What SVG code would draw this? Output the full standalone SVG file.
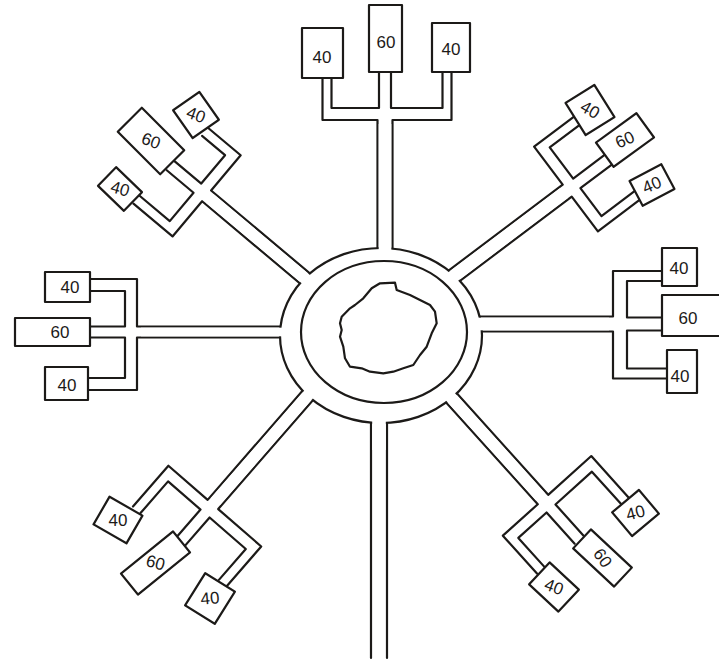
<svg xmlns="http://www.w3.org/2000/svg" width="719" height="667" viewBox="0 0 719 667">
<style>
.ln{fill:none;stroke:#1c1a18;stroke-width:2.2;stroke-linecap:round;stroke-linejoin:round}
.bx{fill:#ffffff;stroke:#1c1a18;stroke-width:2.2;stroke-linejoin:round}
.gap{fill:#ffffff;stroke:none}
.lb{font-family:"Liberation Sans","DejaVu Sans",sans-serif;font-size:17px;fill:#1c1a18;text-anchor:middle;dominant-baseline:central}
</style>
<rect width="719" height="667" fill="#ffffff"/>
<g id="connectors">
  <g id="corridor-top" transform="translate(385,114)">
    <path class="ln" d="M-7.5,190 L-7.5,6 L-62.5,6 L-62.5,-36"/>
    <path class="ln" d="M-53.5,-36 L-53.5,-6 L-6,-6 L-6,-42"/>
    <path class="ln" d="M7.5,190 L7.5,6 L66.5,6 L66.5,-42"/>
    <path class="ln" d="M57.5,-42 L57.5,-6 L6,-6 L6,-42"/>
  </g>
  <g id="corridor-left" transform="translate(131,332) rotate(-90)">
    <path class="ln" d="M-5.5,200 L-5.5,6 L-58,6 L-58,-43"/>
    <path class="ln" d="M-46,-43 L-46,-6 L-5.5,-6 L-5.5,-41"/>
    <path class="ln" d="M5.5,200 L5.5,6 L53,6 L53,-41"/>
    <path class="ln" d="M41,-41 L41,-6 L5.5,-6 L5.5,-41"/>
  </g>
  <g id="corridor-right" transform="translate(620,324) rotate(90)">
    <path class="ln" d="M-7.5,190 L-7.5,7 L-53,7 L-53,-42"/>
    <path class="ln" d="M-43,-42 L-43,-7 L-6.5,-7 L-6.5,-42"/>
    <path class="ln" d="M7.5,190 L7.5,7 L54.5,7 L54.5,-47"/>
    <path class="ln" d="M44.5,-47 L44.5,-7 L6.5,-7 L6.5,-42"/>
  </g>
  <g id="corridor-upper-left" transform="translate(202,192) rotate(-50)">
    <path class="ln" d="M-7,180 L-7,6 L-53,6 L-53,-45"/>
    <path class="ln" d="M-43,-45 L-43,-6 L-6,-6 L-6,-41"/>
    <path class="ln" d="M7,180 L7,6 L53,6 L53,-36"/>
    <path class="ln" d="M43,-36 L43,-6 L6,-6 L6,-41"/>
  </g>
  <g id="corridor-upper-right" transform="translate(572,187) rotate(53)">
    <path class="ln" d="M-7.5,190 L-7.5,6 L-55,6 L-55,-44"/>
    <path class="ln" d="M-45,-44 L-45,-6 L-6,-6 L-6,-47"/>
    <path class="ln" d="M7.5,190 L7.5,6 L51,6 L51,-47"/>
    <path class="ln" d="M41,-47 L41,-6 L6,-6 L6,-47"/>
  </g>
  <g id="corridor-lower-right" transform="translate(547,504) rotate(138)">
    <path class="ln" d="M-7,185 L-7,6 L-65,6 L-65,-50"/>
    <path class="ln" d="M-55,-50 L-55,-6 L-6,-6 L-6,-48"/>
    <path class="ln" d="M7,185 L7,6 L54,6 L54,-45"/>
    <path class="ln" d="M44,-45 L44,-6 L6,-6 L6,-48"/>
  </g>
  <g id="corridor-lower-left" transform="translate(209,509) rotate(-139)">
    <path class="ln" d="M-7,195 L-7,6 L-64,6 L-64,-47"/>
    <path class="ln" d="M-54,-47 L-54,-6 L-6,-6 L-6,-43"/>
    <path class="ln" d="M7,195 L7,6 L59,6 L59,-48"/>
    <path class="ln" d="M49,-48 L49,-6 L6,-6 L6,-43"/>
  </g>
  <g id="corridor-bottom">
    <path class="ln" d="M371,658 L371,380"/>
    <path class="ln" d="M387,658 L387,380"/>
  </g>
</g>
<g id="ring">
  <ellipse class="bx" cx="381" cy="335.5" rx="101" ry="87.5"/>
  <rect class="gap" transform="translate(385,114)" x="-6.3" y="10" width="12.6" height="180"/>
  <rect class="gap" transform="translate(131,332) rotate(-90)" x="-4.3" y="10" width="8.6" height="190"/>
  <rect class="gap" transform="translate(620,324) rotate(90)" x="-6.3" y="11" width="12.6" height="179"/>
  <rect class="gap" transform="translate(202,192) rotate(-50)" x="-5.8" y="10" width="11.6" height="170"/>
  <rect class="gap" transform="translate(572,187) rotate(53)" x="-6.3" y="10" width="12.6" height="180"/>
  <rect class="gap" transform="translate(547,504) rotate(138)" x="-5.8" y="10" width="11.6" height="175"/>
  <rect class="gap" transform="translate(209,509) rotate(-139)" x="-5.8" y="10" width="11.6" height="185"/>
  <rect class="gap" x="372.2" y="380" width="13.6" height="70"/>
  <ellipse class="ln" cx="384" cy="332" rx="83" ry="71"/>
  <path id="core" class="ln" d="M371.7,288.3 L380,283.3 L395,282.7 L396.7,290 L410,295 L420,300 L430,305 L435,311.7 L436.7,323.3 L431.7,333.3 L426.7,346.7 L420,355 L413.3,365 L403.3,368.3 L393.3,371.7 L383.3,373.3 L370,371.7 L361.7,368.3 L350,366.7 L345,358.3 L343.3,346.7 L340,336.7 L341.7,330 L340,323.3 L341.7,316.7 L350,308.3 L355,305 L363.3,298.3 Z"/>
</g>
<g id="top-40a"><rect class="bx" x="302" y="28" width="41" height="50"/><text class="lb" x="322" y="57">40</text></g>
<g id="top-60"><rect class="bx" x="369" y="5" width="33" height="67"/><text class="lb" x="386" y="42">60</text></g>
<g id="top-40b"><rect class="bx" x="432" y="23" width="38" height="49"/><text class="lb" x="451" y="49">40</text></g>

<g id="left-40a"><rect class="bx" x="45" y="272" width="45" height="30"/><text class="lb" x="70" y="287">40</text></g>
<g id="left-60"><rect class="bx" x="15" y="318" width="75" height="28"/><text class="lb" x="60" y="332">60</text></g>
<g id="left-40b"><rect class="bx" x="45" y="367" width="43" height="33"/><text class="lb" x="67" y="385">40</text></g>

<g id="right-40a"><rect class="bx" x="662" y="248" width="35" height="38"/><text class="lb" x="679" y="268">40</text></g>
<g id="right-60"><rect class="bx" x="662" y="295" width="78" height="41"/><text class="lb" x="688" y="318">60</text></g>
<g id="right-40b"><rect class="bx" x="667" y="350" width="30" height="43"/><text class="lb" x="680" y="376">40</text></g>

<g id="ul-40a" transform="translate(196,115) rotate(-35)"><rect class="bx" x="-16" y="-17" width="32" height="34"/><text class="lb" transform="rotate(55)" x="0" y="0">40</text></g>
<g id="ul-60" transform="translate(151,141) rotate(-45)"><rect class="bx" x="-17" y="-30" width="34" height="60"/><text class="lb" transform="rotate(65)" x="0" y="0">60</text></g>
<g id="ul-40b" transform="translate(120,189) rotate(-46)"><rect class="bx" x="-13" y="-18" width="26" height="36"/><text class="lb" transform="rotate(62)" x="0" y="0">40</text></g>

<g id="ur-40a" transform="translate(590,110) rotate(-32)"><rect class="bx" x="-17" y="-19" width="34" height="38"/><text class="lb" transform="rotate(62)" x="0" y="0">40</text></g>
<g id="ur-60" transform="translate(625,140) rotate(-36)"><rect class="bx" x="-25" y="-15" width="50" height="30"/><text class="lb" transform="rotate(12)" x="0" y="0">60</text></g>
<g id="ur-40b" transform="translate(652,185) rotate(-28)"><rect class="bx" x="-18" y="-14" width="36" height="28"/><text class="lb" transform="rotate(6)" x="0" y="0">40</text></g>

<g id="lr-40a" transform="translate(635.5,513) rotate(-40)"><rect class="bx" x="-17.5" y="-15.5" width="35" height="31"/><text class="lb" transform="rotate(25)" x="0" y="0">40</text></g>
<g id="lr-60" transform="translate(602.5,558) rotate(43)"><rect class="bx" x="-28" y="-13" width="56" height="26"/><text class="lb" transform="rotate(12)" x="0" y="0">60</text></g>
<g id="lr-40b" transform="translate(554,587) rotate(43)"><rect class="bx" x="-20" y="-15" width="40" height="30"/><text class="lb" transform="rotate(-23)" x="0" y="0">40</text></g>

<g id="ll-40a" transform="translate(118,520) rotate(30)"><rect class="bx" x="-19" y="-16" width="38" height="32"/><text class="lb" transform="rotate(-30)" x="0" y="0">40</text></g>
<g id="ll-60" transform="translate(155.5,563) rotate(-39)"><rect class="bx" x="-33.5" y="-13.5" width="67" height="27"/><text class="lb" transform="rotate(54)" x="0" y="0">60</text></g>
<g id="ll-40b" transform="translate(210,598.5) rotate(32)"><rect class="bx" x="-17.5" y="-19" width="35" height="38"/><text class="lb" transform="rotate(-37)" x="0" y="0">40</text></g>
</svg>
